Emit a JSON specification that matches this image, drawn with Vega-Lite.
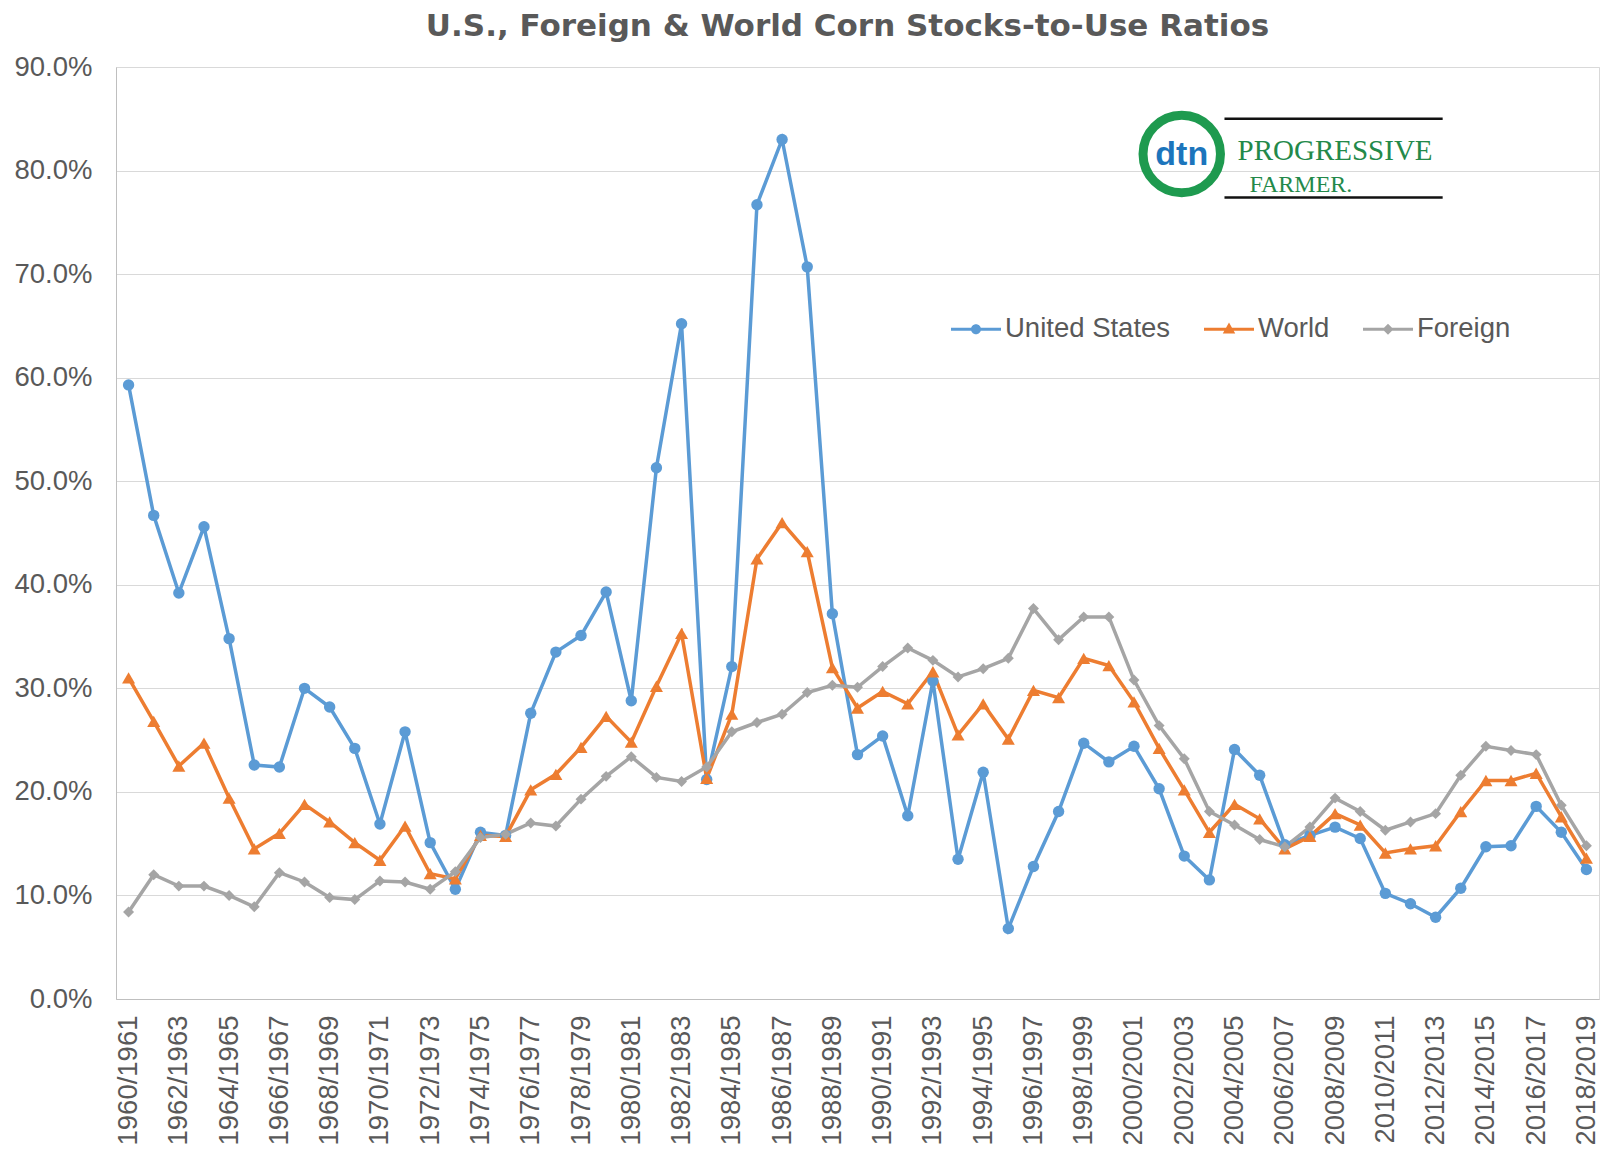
{
  "$schema": "https://vega.github.io/schema/vega-lite/v6.json",
  "width": 1483,
  "height": 932,
  "autosize": {"type": "none"},
  "padding": {"left": 116, "top": 67, "right": 13, "bottom": 154},
  "background": "white",
  "title": {
    "text": "U.S., Foreign & World Corn Stocks-to-Use Ratios",
    "font": "DejaVu Sans",
    "fontSize": 31,
    "fontWeight": "bold",
    "color": "#595959",
    "anchor": "middle",
    "frame": "group",
    "offset": 10,
    "dx": -10
  },
  "config": {
    "view": {"stroke": "#D9D9D9", "strokeWidth": 1},
    "axis": {"labelFont": "Liberation Sans", "labelColor": "#595959"}
  },
  "layer": [
    {
      "data": {
        "values": [
          {"year": 1960, "series": "United States", "value": 59.3},
          {"year": 1961, "series": "United States", "value": 46.7},
          {"year": 1962, "series": "United States", "value": 39.2},
          {"year": 1963, "series": "United States", "value": 45.6},
          {"year": 1964, "series": "United States", "value": 34.8},
          {"year": 1965, "series": "United States", "value": 22.6},
          {"year": 1966, "series": "United States", "value": 22.4},
          {"year": 1967, "series": "United States", "value": 30.0},
          {"year": 1968, "series": "United States", "value": 28.2},
          {"year": 1969, "series": "United States", "value": 24.2},
          {"year": 1970, "series": "United States", "value": 16.9},
          {"year": 1971, "series": "United States", "value": 25.8},
          {"year": 1972, "series": "United States", "value": 15.1},
          {"year": 1973, "series": "United States", "value": 10.6},
          {"year": 1974, "series": "United States", "value": 16.1},
          {"year": 1975, "series": "United States", "value": 15.8},
          {"year": 1976, "series": "United States", "value": 27.6},
          {"year": 1977, "series": "United States", "value": 33.5},
          {"year": 1978, "series": "United States", "value": 35.1},
          {"year": 1979, "series": "United States", "value": 39.3},
          {"year": 1980, "series": "United States", "value": 28.8},
          {"year": 1981, "series": "United States", "value": 51.3},
          {"year": 1982, "series": "United States", "value": 65.2},
          {"year": 1983, "series": "United States", "value": 21.2},
          {"year": 1984, "series": "United States", "value": 32.1},
          {"year": 1985, "series": "United States", "value": 76.7},
          {"year": 1986, "series": "United States", "value": 83.0},
          {"year": 1987, "series": "United States", "value": 70.7},
          {"year": 1988, "series": "United States", "value": 37.2},
          {"year": 1989, "series": "United States", "value": 23.6},
          {"year": 1990, "series": "United States", "value": 25.4},
          {"year": 1991, "series": "United States", "value": 17.7},
          {"year": 1992, "series": "United States", "value": 30.7},
          {"year": 1993, "series": "United States", "value": 13.5},
          {"year": 1994, "series": "United States", "value": 21.9},
          {"year": 1995, "series": "United States", "value": 6.8},
          {"year": 1996, "series": "United States", "value": 12.8},
          {"year": 1997, "series": "United States", "value": 18.1},
          {"year": 1998, "series": "United States", "value": 24.7},
          {"year": 1999, "series": "United States", "value": 22.9},
          {"year": 2000, "series": "United States", "value": 24.4},
          {"year": 2001, "series": "United States", "value": 20.3},
          {"year": 2002, "series": "United States", "value": 13.8},
          {"year": 2003, "series": "United States", "value": 11.5},
          {"year": 2004, "series": "United States", "value": 24.1},
          {"year": 2005, "series": "United States", "value": 21.6},
          {"year": 2006, "series": "United States", "value": 14.9},
          {"year": 2007, "series": "United States", "value": 15.8},
          {"year": 2008, "series": "United States", "value": 16.6},
          {"year": 2009, "series": "United States", "value": 15.5},
          {"year": 2010, "series": "United States", "value": 10.2},
          {"year": 2011, "series": "United States", "value": 9.2},
          {"year": 2012, "series": "United States", "value": 7.9},
          {"year": 2013, "series": "United States", "value": 10.7},
          {"year": 2014, "series": "United States", "value": 14.7},
          {"year": 2015, "series": "United States", "value": 14.8},
          {"year": 2016, "series": "United States", "value": 18.6},
          {"year": 2017, "series": "United States", "value": 16.1},
          {"year": 2018, "series": "United States", "value": 12.5},
          {"year": 1960, "series": "World", "value": 31.0},
          {"year": 1961, "series": "World", "value": 26.8},
          {"year": 1962, "series": "World", "value": 22.5},
          {"year": 1963, "series": "World", "value": 24.7},
          {"year": 1964, "series": "World", "value": 19.4},
          {"year": 1965, "series": "World", "value": 14.5},
          {"year": 1966, "series": "World", "value": 16.0},
          {"year": 1967, "series": "World", "value": 18.8},
          {"year": 1968, "series": "World", "value": 17.1},
          {"year": 1969, "series": "World", "value": 15.1},
          {"year": 1970, "series": "World", "value": 13.4},
          {"year": 1971, "series": "World", "value": 16.7},
          {"year": 1972, "series": "World", "value": 12.1},
          {"year": 1973, "series": "World", "value": 11.6},
          {"year": 1974, "series": "World", "value": 15.8},
          {"year": 1975, "series": "World", "value": 15.7},
          {"year": 1976, "series": "World", "value": 20.2},
          {"year": 1977, "series": "World", "value": 21.7},
          {"year": 1978, "series": "World", "value": 24.3},
          {"year": 1979, "series": "World", "value": 27.3},
          {"year": 1980, "series": "World", "value": 24.8},
          {"year": 1981, "series": "World", "value": 30.2},
          {"year": 1982, "series": "World", "value": 35.3},
          {"year": 1983, "series": "World", "value": 21.3},
          {"year": 1984, "series": "World", "value": 27.5},
          {"year": 1985, "series": "World", "value": 42.5},
          {"year": 1986, "series": "World", "value": 46.0},
          {"year": 1987, "series": "World", "value": 43.2},
          {"year": 1988, "series": "World", "value": 32.0},
          {"year": 1989, "series": "World", "value": 28.1},
          {"year": 1990, "series": "World", "value": 29.7},
          {"year": 1991, "series": "World", "value": 28.5},
          {"year": 1992, "series": "World", "value": 31.6},
          {"year": 1993, "series": "World", "value": 25.5},
          {"year": 1994, "series": "World", "value": 28.5},
          {"year": 1995, "series": "World", "value": 25.1},
          {"year": 1996, "series": "World", "value": 29.8},
          {"year": 1997, "series": "World", "value": 29.1},
          {"year": 1998, "series": "World", "value": 32.9},
          {"year": 1999, "series": "World", "value": 32.2},
          {"year": 2000, "series": "World", "value": 28.7},
          {"year": 2001, "series": "World", "value": 24.2},
          {"year": 2002, "series": "World", "value": 20.2},
          {"year": 2003, "series": "World", "value": 16.1},
          {"year": 2004, "series": "World", "value": 18.8},
          {"year": 2005, "series": "World", "value": 17.4},
          {"year": 2006, "series": "World", "value": 14.5},
          {"year": 2007, "series": "World", "value": 15.7},
          {"year": 2008, "series": "World", "value": 17.9},
          {"year": 2009, "series": "World", "value": 16.8},
          {"year": 2010, "series": "World", "value": 14.1},
          {"year": 2011, "series": "World", "value": 14.5},
          {"year": 2012, "series": "World", "value": 14.8},
          {"year": 2013, "series": "World", "value": 18.1},
          {"year": 2014, "series": "World", "value": 21.1},
          {"year": 2015, "series": "World", "value": 21.1},
          {"year": 2016, "series": "World", "value": 21.8},
          {"year": 2017, "series": "World", "value": 17.6},
          {"year": 2018, "series": "World", "value": 13.6},
          {"year": 1960, "series": "Foreign", "value": 8.4},
          {"year": 1961, "series": "Foreign", "value": 12.0},
          {"year": 1962, "series": "Foreign", "value": 10.9},
          {"year": 1963, "series": "Foreign", "value": 10.9},
          {"year": 1964, "series": "Foreign", "value": 10.0},
          {"year": 1965, "series": "Foreign", "value": 8.9},
          {"year": 1966, "series": "Foreign", "value": 12.2},
          {"year": 1967, "series": "Foreign", "value": 11.3},
          {"year": 1968, "series": "Foreign", "value": 9.8},
          {"year": 1969, "series": "Foreign", "value": 9.6},
          {"year": 1970, "series": "Foreign", "value": 11.4},
          {"year": 1971, "series": "Foreign", "value": 11.3},
          {"year": 1972, "series": "Foreign", "value": 10.6},
          {"year": 1973, "series": "Foreign", "value": 12.3},
          {"year": 1974, "series": "Foreign", "value": 15.6},
          {"year": 1975, "series": "Foreign", "value": 15.9},
          {"year": 1976, "series": "Foreign", "value": 17.0},
          {"year": 1977, "series": "Foreign", "value": 16.7},
          {"year": 1978, "series": "Foreign", "value": 19.3},
          {"year": 1979, "series": "Foreign", "value": 21.5},
          {"year": 1980, "series": "Foreign", "value": 23.4},
          {"year": 1981, "series": "Foreign", "value": 21.4},
          {"year": 1982, "series": "Foreign", "value": 21.0},
          {"year": 1983, "series": "Foreign", "value": 22.4},
          {"year": 1984, "series": "Foreign", "value": 25.8},
          {"year": 1985, "series": "Foreign", "value": 26.7},
          {"year": 1986, "series": "Foreign", "value": 27.5},
          {"year": 1987, "series": "Foreign", "value": 29.6},
          {"year": 1988, "series": "Foreign", "value": 30.3},
          {"year": 1989, "series": "Foreign", "value": 30.1},
          {"year": 1990, "series": "Foreign", "value": 32.1},
          {"year": 1991, "series": "Foreign", "value": 33.9},
          {"year": 1992, "series": "Foreign", "value": 32.7},
          {"year": 1993, "series": "Foreign", "value": 31.1},
          {"year": 1994, "series": "Foreign", "value": 31.9},
          {"year": 1995, "series": "Foreign", "value": 32.9},
          {"year": 1996, "series": "Foreign", "value": 37.7},
          {"year": 1997, "series": "Foreign", "value": 34.7},
          {"year": 1998, "series": "Foreign", "value": 36.9},
          {"year": 1999, "series": "Foreign", "value": 36.9},
          {"year": 2000, "series": "Foreign", "value": 30.8},
          {"year": 2001, "series": "Foreign", "value": 26.4},
          {"year": 2002, "series": "Foreign", "value": 23.2},
          {"year": 2003, "series": "Foreign", "value": 18.1},
          {"year": 2004, "series": "Foreign", "value": 16.8},
          {"year": 2005, "series": "Foreign", "value": 15.4},
          {"year": 2006, "series": "Foreign", "value": 14.7},
          {"year": 2007, "series": "Foreign", "value": 16.6},
          {"year": 2008, "series": "Foreign", "value": 19.4},
          {"year": 2009, "series": "Foreign", "value": 18.1},
          {"year": 2010, "series": "Foreign", "value": 16.3},
          {"year": 2011, "series": "Foreign", "value": 17.1},
          {"year": 2012, "series": "Foreign", "value": 17.9},
          {"year": 2013, "series": "Foreign", "value": 21.6},
          {"year": 2014, "series": "Foreign", "value": 24.4},
          {"year": 2015, "series": "Foreign", "value": 24.0},
          {"year": 2016, "series": "Foreign", "value": 23.6},
          {"year": 2017, "series": "Foreign", "value": 18.7},
          {"year": 2018, "series": "Foreign", "value": 14.8}
        ]
      },
      "encoding": {
        "x": {
          "field": "year",
          "type": "quantitative",
          "scale": {"domain": [1959.5, 2018.5], "nice": false, "zero": false},
          "axis": {
            "title": null,
            "values": [1960, 1962, 1964, 1966, 1968, 1970, 1972, 1974, 1976, 1978, 1980, 1982, 1984, 1986, 1988, 1990, 1992, 1994, 1996, 1998, 2000, 2002, 2004, 2006, 2008, 2010, 2012, 2014, 2016, 2018],
            "labelExpr": "datum.value + '/' + (datum.value + 1)",
            "labelAngle": -90,
            "labelFontSize": 27.5,
            "labelPadding": 16,
            "labelFlush": false,
            "labelOverlap": false,
            "grid": false,
            "ticks": false,
            "domainColor": "#BFBFBF"
          }
        },
        "y": {
          "field": "value",
          "type": "quantitative",
          "scale": {"domain": [0, 90], "nice": false},
          "axis": {
            "title": null,
            "values": [0, 10, 20, 30, 40, 50, 60, 70, 80, 90],
            "labelExpr": "format(datum.value, '.1f') + '%'",
            "labelFontSize": 27.5,
            "labelPadding": 24,
            "grid": true,
            "gridColor": "#D9D9D9",
            "ticks": false,
            "domainColor": "#BFBFBF"
          }
        },
        "color": {
          "field": "series",
          "type": "nominal",
          "scale": {"domain": ["United States", "World", "Foreign"], "range": ["#5B9BD5", "#ED7D31", "#A5A5A5"]},
          "legend": {
            "title": null,
            "orient": "none",
            "legendX": 835,
            "legendY": 237,
            "direction": "horizontal",
            "labelFont": "Liberation Sans",
            "labelFontSize": 27.5,
            "labelColor": "#595959",
            "labelLimit": 400,
            "labelOffset": 4,
            "columnPadding": 33,
            "symbolSize": 2500,
            "symbolStrokeWidth": 0,
            "symbolOpacity": 1
          }
        }
      },
      "layer": [
        {"mark": {"type": "line", "strokeWidth": 3.5}},
        {
          "transform": [{"filter": "datum.series === 'United States'"}],
          "mark": {"type": "point", "shape": "circle", "filled": true, "opacity": 1, "size": 130}
        },
        {
          "transform": [{"filter": "datum.series === 'World'"}],
          "mark": {"type": "point", "shape": "triangle-up", "filled": true, "opacity": 1, "size": 170}
        },
        {
          "transform": [{"filter": "datum.series === 'Foreign'"}],
          "mark": {"type": "point", "shape": "diamond", "filled": true, "opacity": 1, "size": 120}
        },
        {
          "transform": [{"filter": "false"}],
          "mark": {"type": "point", "filled": true, "opacity": 1},
          "encoding": {
            "shape": {
              "field": "series",
              "type": "nominal",
              "scale": {
                "domain": ["United States", "World", "Foreign"],
                "range": [
                  "M-1,-0.06L1,-0.06L1,0.06L-1,0.06Z M-0.2,0A0.2,0.2,0,1,1,0.2,0A0.2,0.2,0,1,1,-0.2,0Z",
                  "M-1,-0.06L1,-0.06L1,0.06L-1,0.06Z M0,-0.27L0.25,0.17L-0.25,0.17Z",
                  "M-1,-0.06L1,-0.06L1,0.06L-1,0.06Z M0,-0.22L0.22,0L0,0.22L-0.22,0Z"
                ]
              },
              "legend": {"title": null}
            }
          }
        }
      ]
    },
    {
      "data": {"values": [{}]},
      "mark": {"type": "point", "shape": "circle", "size": 6000, "filled": false, "stroke": "#1E9A4F", "strokeWidth": 9, "opacity": 1},
      "encoding": {"x": {"datum": 2001.9}, "y": {"datum": 81.6}}
    },
    {
      "data": {"values": [{}]},
      "mark": {"type": "text", "text": "dtn", "font": "Liberation Sans", "fontWeight": "bold", "fontSize": 34, "color": "#1C75BC", "align": "center", "baseline": "middle"},
      "encoding": {"x": {"datum": 2001.9}, "y": {"datum": 81.5}}
    },
    {
      "data": {"values": [{}]},
      "mark": {"type": "rule", "color": "#111111", "strokeWidth": 2.5},
      "encoding": {"x": {"datum": 2003.6}, "x2": {"datum": 2012.28}, "y": {"datum": 85.0}}
    },
    {
      "data": {"values": [{}]},
      "mark": {"type": "rule", "color": "#111111", "strokeWidth": 2.5},
      "encoding": {"x": {"datum": 2003.6}, "x2": {"datum": 2012.28}, "y": {"datum": 77.4}}
    },
    {
      "data": {"values": [{}]},
      "mark": {"type": "text", "text": "PROGRESSIVE", "font": "Liberation Serif", "fontSize": 29, "color": "#23894A", "align": "center", "baseline": "alphabetic"},
      "encoding": {"x": {"datum": 2008.0}, "y": {"datum": 81.0}}
    },
    {
      "data": {"values": [{}]},
      "mark": {"type": "text", "text": "FARMER.", "font": "Liberation Serif", "fontSize": 24, "color": "#23894A", "align": "center", "baseline": "alphabetic"},
      "encoding": {"x": {"datum": 2006.64}, "y": {"datum": 77.9}}
    }
  ]
}
